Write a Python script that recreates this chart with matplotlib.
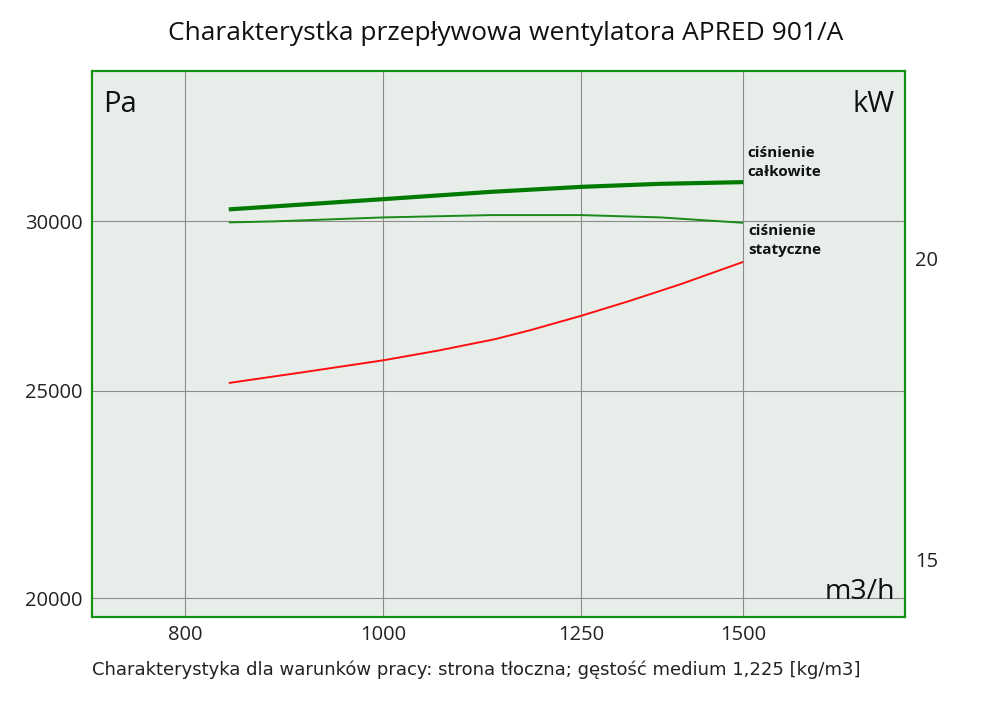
import matplotlib
matplotlib.use("Agg")
import matplotlib.pyplot as plt
from matplotlib.ticker import FixedLocator, FixedFormatter, NullLocator, NullFormatter

plt.rcParams['font.family'] = ['Open Sans', 'DejaVu Sans']

# ---- data ----
title = "Charakterystka przepływowa wentylatora APRED 901/A"
subtitle = "Charakterystyka dla warunków pracy: strona tłoczna; gęstość medium 1,225 [kg/m3]"

x_ticks = [800, 1000, 1250, 1500]
pa_ticks = [20000, 25000, 30000]
kw_ticks = [15, 20]

q_pressure = [840, 884, 1000, 1129, 1250, 1366, 1500]
p_total = [30390, 30488, 30727, 30969, 31136, 31237, 31294]
p_static = [29968, 30000, 30129, 30204, 30204, 30129, 29955]

q_power = [840, 916, 1000, 1064, 1134, 1180, 1250, 1321, 1398, 1500]
power_kw = [17.76, 17.95, 18.15, 18.32, 18.52, 18.68, 18.94, 19.215, 19.52, 19.94]

label_total = "ciśnienie\ncałkowite"
label_static = "ciśnienie\nstatyczne"

# ---- style ----
bg = "#e7eeea"
green_border = "#139113"
grid_c = "#8c8c8c"
tick_fs = 14.5

fig = plt.figure(figsize=(10, 7.06), dpi=100)
ax = fig.add_axes([0.092, 0.1261, 0.813, 0.7738])
ax.set_facecolor(bg)
ax.set_xscale('log')
ax.set_yscale('log')
ax.set_xlim(720, 1800)
ax.set_ylim(19604, 35280)

ax.xaxis.set_major_locator(FixedLocator(x_ticks))
ax.xaxis.set_major_formatter(FixedFormatter([str(v) for v in x_ticks]))
ax.xaxis.set_minor_locator(NullLocator())
ax.xaxis.set_minor_formatter(NullFormatter())
ax.yaxis.set_major_locator(FixedLocator(pa_ticks))
ax.yaxis.set_major_formatter(FixedFormatter([str(v) for v in pa_ticks]))
ax.yaxis.set_minor_locator(NullLocator())
ax.yaxis.set_minor_formatter(NullFormatter())
ax.tick_params(axis='both', length=0, labelsize=tick_fs, colors='#222222')
ax.tick_params(axis='x', pad=6)
ax.tick_params(axis='y', pad=7)
ax.grid(True, color=grid_c, linewidth=0.8)
ax.set_axisbelow(True)
for s in ax.spines.values():
    s.set_color(green_border)
    s.set_linewidth(1.5)

ax.plot(q_pressure, p_total, color="#007a00", linewidth=3.0, solid_capstyle='butt',
        solid_joinstyle='round', zorder=3)
ax.plot(q_pressure, p_static, color="#1a8a1a", linewidth=1.4, solid_capstyle='butt',
        solid_joinstyle='round', zorder=3)

ax2 = ax.twinx()
ax2.set_yscale('log')
ax2.set_ylim(14.20, 23.94)
ax2.yaxis.set_major_locator(FixedLocator(kw_ticks))
ax2.yaxis.set_major_formatter(FixedFormatter([str(v) for v in kw_ticks]))
ax2.yaxis.set_minor_locator(NullLocator())
ax2.yaxis.set_minor_formatter(NullFormatter())
ax2.tick_params(axis='y', length=0, labelsize=tick_fs, pad=7.5, colors='#222222')
for s in ax2.spines.values():
    s.set_color(green_border)
    s.set_linewidth(1.5)
ax2.plot(q_power, power_kw, color="#ff1010", linewidth=1.4, solid_capstyle='butt',
         solid_joinstyle='round', zorder=3)

# unit labels
ax.text(0.0135, 0.925, "Pa", transform=ax.transAxes, fontsize=21, ha='left', va='baseline', color='#111111')
ax.text(0.9877, 0.925, "kW", transform=ax.transAxes, fontsize=21, ha='right', va='baseline', color='#111111')
ax.text(0.9877, 0.033, "m3/h", transform=ax.transAxes, fontsize=20.5, ha='right', va='baseline', color='#111111')

# curve labels
ax.annotate(label_total, xy=(q_pressure[-1], p_total[-1]), xytext=(4, 20),
            textcoords='offset pixels', ha='left', va='center', fontsize=11,
            fontweight='bold', color='#111111', linespacing=1.45, zorder=5)
ax.annotate(label_static, xy=(q_pressure[-1], p_static[-1]), xytext=(5, -18),
            textcoords='offset pixels', ha='left', va='center', fontsize=11,
            fontweight='bold', color='#111111', linespacing=1.45, zorder=5)

fig.text(0.506, 0.953, title, ha='center', va='center', fontsize=19, color='#111111')
fig.text(0.092, 0.051, subtitle, ha='left', va='center', fontsize=12.95, color='#222222',
         family=['DejaVu Sans'])

fig.savefig("out.png", dpi=100, facecolor='white')
